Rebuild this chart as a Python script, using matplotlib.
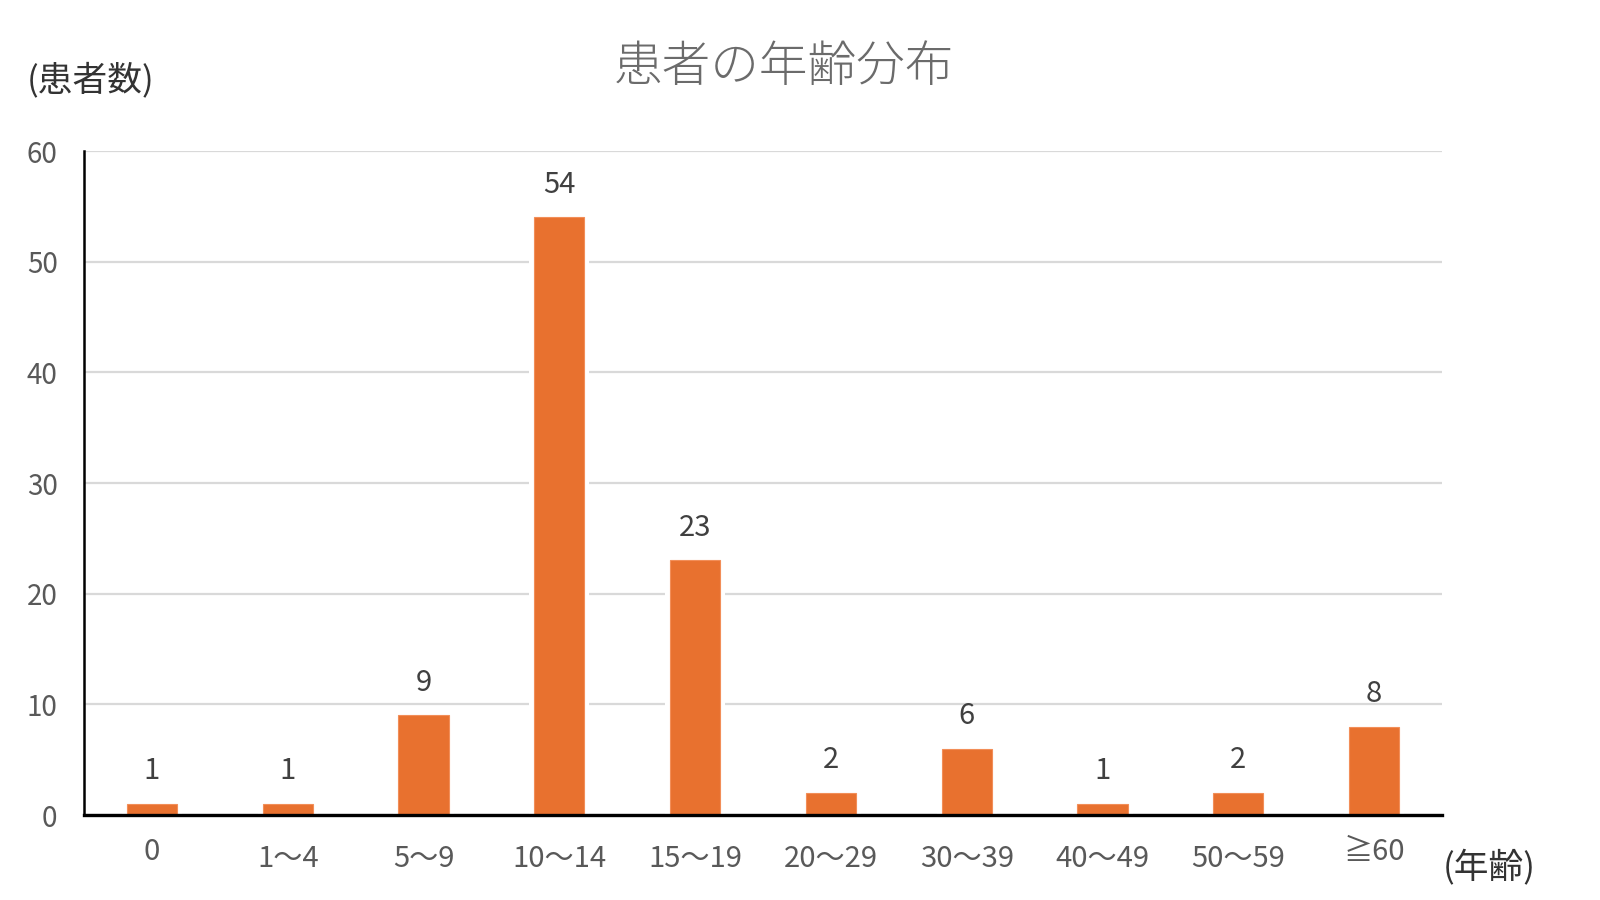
import matplotlib
matplotlib.use("Agg")
import matplotlib.pyplot as plt
from matplotlib.transforms import ScaledTranslation

plt.rcParams['font.family'] = ['Noto Sans CJK JP', 'DejaVu Sans']

categories = ["0", "1～4", "5～9", "10～14", "15～19", "20～29", "30～39", "40～49", "50～59", "≧60"]
patients = [1, 1, 9, 54, 23, 2, 6, 1, 2, 8]
yticks = [0, 10, 20, 30, 40, 50, 60]

title = "患者の年齢分布"
ylabel = "(患者数)"
xlabel = "(年齢)"

bar_color = "#E8712F"
edge_color = "#F28E58"

fig = plt.figure(figsize=(16, 9), dpi=100)
ax = fig.add_axes([0.0525, 0.0944, 0.8488, 0.7378])

x = list(range(len(categories)))
w = 0.37
# white halo behind bars (breaks gridlines around bars)
ax.bar(x, patients, width=w, color="white", edgecolor="white", linewidth=7.2, zorder=2)
bars = ax.bar(x, patients, width=w, color=bar_color, edgecolor=edge_color, linewidth=0.8, zorder=3)

for xi, v in zip(x, patients):
    ax.annotate(str(v), (xi, v), xytext=(0, 23.5), textcoords="offset points",
                ha="center", va="center", fontsize=21, color="#404040")

ax.set_xlim(-0.5, len(categories) - 0.5)
ax.set_ylim(0, 60)
ax.set_yticks(yticks)
ax.set_xticks(x)
ax.set_xticklabels(categories)

ax.set_axisbelow(True)
ax.yaxis.grid(True, color="#D9D9D9", linewidth=1.6)
ax.xaxis.grid(False)

for s in ["top", "right"]:
    ax.spines[s].set_visible(False)
ax.spines["left"].set_color("black")
ax.spines["left"].set_linewidth(1.8)
ax.spines["bottom"].set_color("black")
ax.spines["bottom"].set_linewidth(2.4)
ax.spines["bottom"].set_zorder(4)

ax.tick_params(axis="y", length=0, pad=19, labelsize=20, labelcolor="#595959")
ax.tick_params(axis="x", length=0, pad=21, labelsize=21, labelcolor="#595959")

for lbl in ax.get_xticklabels():
    if "～" not in lbl.get_text():
        lbl.set_transform(lbl.get_transform() + ScaledTranslation(0, 5 / 72, fig.dpi_scale_trans))

fig.text(0.49, 1 - 67 / 900, title, ha="center", va="center", fontsize=35,
         color="#6B6B6B", fontweight="light")
fig.text(27 / 1600, 1 - 80 / 900, ylabel, ha="left", va="center", fontsize=25, color="#333333")
fig.text(1443 / 1600, 1 - 868 / 900, xlabel, ha="left", va="center", fontsize=25, color="#333333")

fig.savefig("out.png", dpi=100, facecolor="white")
